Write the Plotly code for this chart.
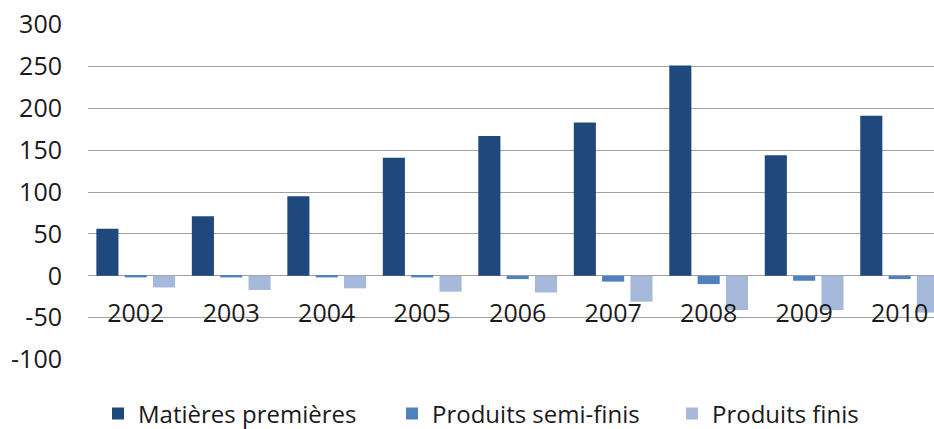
import plotly.graph_objects as go

years = ["2002", "2003", "2004", "2005", "2006", "2007", "2008", "2009", "2010"]
matieres_premieres = [56, 71, 95, 141, 167, 183, 251, 144, 191]
produits_semi_finis = [-2, -2, -2, -2, -4, -7, -10, -6, -4]
produits_finis = [-14, -17, -15, -19, -20, -31, -41, -41, -44]
y_ticks = [-100, -50, 0, 50, 100, 150, 200, 250, 300]
y_tick_text = [str(v) for v in y_ticks]

series = [
    ("Matières premières", matieres_premieres, "#1F497D", "legend"),
    ("Produits semi-finis", produits_semi_finis, "#4F81BD", "legend2"),
    ("Produits finis", produits_finis, "#A7B9DB", "legend3"),
]

fig = go.Figure()
for name, vals, color, leg in series:
    fig.add_trace(go.Bar(x=years, y=vals, name=name, legend=leg,
                         marker=dict(color=color, line=dict(width=0))))

FONT = "Open Sans"
TXT = "#1a1a1a"
L, R, T, B = 88, 0, 24, 69
W, H = 934, 429
pw, ph = W - L - R, H - T - B


def px_x(p):
    return (p - L) / pw


def px_y(p):
    return (H - B - p) / ph


leg_common = dict(orientation="h", xanchor="left", yanchor="middle",
                  font=dict(size=24, family=FONT, color=TXT), bgcolor="rgba(0,0,0,0)")
fig.update_layout(
    width=W, height=H,
    margin=dict(l=L, r=R, t=T, b=B, autoexpand=False),
    paper_bgcolor="white", plot_bgcolor="white",
    barmode="group", bargap=0.11, bargroupgap=0.22,
    font=dict(family=FONT, color=TXT, size=25),
    showlegend=True,
    legend=dict(x=px_x(98), y=px_y(414), **leg_common),
    legend2=dict(x=px_x(392), y=px_y(414), **leg_common),
    legend3=dict(x=px_x(672), y=px_y(414), **leg_common),
)
fig.update_xaxes(
    range=[-0.5, 8.36], showgrid=False, showline=False, zeroline=False,
    anchor="free", position=0.25, ticks="", ticklabelstandoff=20,
    tickfont=dict(size=25, family=FONT, color=TXT),
)
fig.update_yaxes(
    range=[-100.6, 300.6], tickvals=y_ticks, ticktext=y_tick_text,
    showgrid=True, gridcolor="#a0a0a0", gridwidth=1,
    zeroline=True, zerolinecolor="#a0a0a0", zerolinewidth=1, showline=False,
    ticks="", ticklabelstandoff=25,
    tickfont=dict(size=25, family=FONT, color=TXT),
)

fig.write_html("out.html", config={"displayModeBar": False},
               post_script="document.body.style.margin='0';document.body.style.overflow='hidden';")
